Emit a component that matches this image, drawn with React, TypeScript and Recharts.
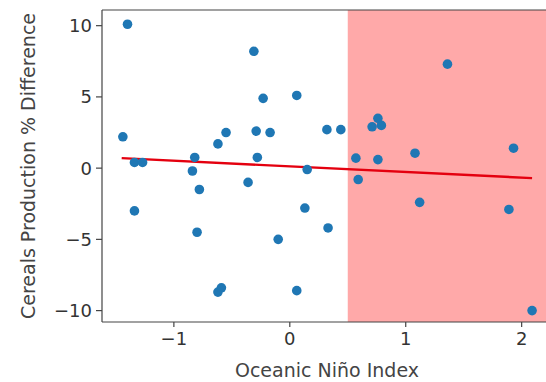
import React from 'react';
import {
  ScatterChart, Scatter, XAxis, YAxis, ReferenceArea, ReferenceLine, Label,
} from 'recharts';

// Oceanic Niño Index vs cereals production % difference
const oni = [
  -1.40, -1.44, -1.34, -1.27, -1.34, -0.82, -0.84, -0.78, -0.80, -0.62,
  -0.55, -0.62, -0.59, -0.36, -0.31, -0.23, -0.29, -0.17, -0.28, -0.10,
  0.06, 0.32, 0.44, 0.15, 0.57, 0.59, 0.76, 0.71, 0.76, 0.79,
  1.08, 1.36, 1.93, 1.12, 1.89, 2.09, 0.13, 0.33, 0.06,
];
const cerealsDiff = [
  10.1, 2.2, 0.4, 0.4, -3.0, 0.75, -0.2, -1.5, -4.5, 1.7,
  2.5, -8.7, -8.4, -1.0, 8.2, 4.9, 2.6, 2.5, 0.75, -5.0,
  5.1, 2.7, 2.7, -0.1, 0.7, -0.8, 0.6, 2.9, 3.5, 3.0,
  1.05, 7.3, 1.4, -2.4, -2.9, -10.0, -2.8, -4.2, -8.6,
];

// fitted trend line end points
const fitX = [-1.45, 2.09];
const fitY = [0.7, -0.7];

const xTicks = [-1, 0, 1, 2];
const yTicks = [-10, -5, 0, 5, 10];
const xDomain = [-1.62, 2.21];
const yDomain = [-10.8, 11.1];
const elNinoStart = 0.5;

const points = oni.map((x, i) => ({ x, y: cerealsDiff[i] }));

const font = "'DejaVu Sans', sans-serif";
const axisColor = '#444';
const fmt = (v: number) => (v < 0 ? `\u2212${Math.abs(v)}` : `${v}`);

export default function App() {
  return (
    <div style={{ position: 'absolute', left: 0, top: 0, width: 546, height: 382, overflow: 'hidden', background: '#fff' }}>
      <ScatterChart width={546} height={382} margin={{ top: 10, right: 0, left: 0, bottom: 0 }}>
        <ReferenceArea x1={elNinoStart} x2={xDomain[1]} y1={yDomain[0]} y2={yDomain[1]} fill="#ffa9a9" fillOpacity={1} stroke="none" ifOverflow="hidden" />
        <XAxis
          type="number"
          dataKey="x"
          domain={xDomain}
          ticks={xTicks}
          allowDataOverflow
          height={60}
          stroke={axisColor}
          strokeWidth={1.2}
          tickSize={5}
          tickMargin={5}
          tick={{ fill: '#333', fontSize: 18, fontFamily: font }}
          tickFormatter={fmt}
        >
          <Label value="Oceanic Niño Index" position="insideBottom" offset={5} dx={3} fill="#444" fontSize={19} fontFamily={font} />
        </XAxis>
        <YAxis
          type="number"
          dataKey="y"
          domain={yDomain}
          ticks={yTicks}
          allowDataOverflow
          width={102}
          stroke={axisColor}
          strokeWidth={1.2}
          tickSize={6}
          tickMargin={4}
          tick={{ fill: '#333', fontSize: 18, fontFamily: font }}
          tickFormatter={fmt}
        >
          <Label value="Cereals Production % Difference" angle={-90} position="insideLeft" offset={28} fill="#444" fontSize={19} fontFamily={font} style={{ textAnchor: 'middle' }} />
        </YAxis>
        <ReferenceLine y={yDomain[1]} stroke={axisColor} strokeWidth={1.2} ifOverflow="extendDomain" />
        <Scatter data={points} fill="#1f77b4" shape={(p: any) => <circle cx={p.cx} cy={p.cy} r={4.8} fill="#1f77b4" />} isAnimationActive={false} />
        <ReferenceLine
          segment={[{ x: fitX[0], y: fitY[0] }, { x: fitX[1], y: fitY[1] }]}
          stroke="#e4000f"
          strokeWidth={2.4}
        />
      </ScatterChart>
    </div>
  );
}
